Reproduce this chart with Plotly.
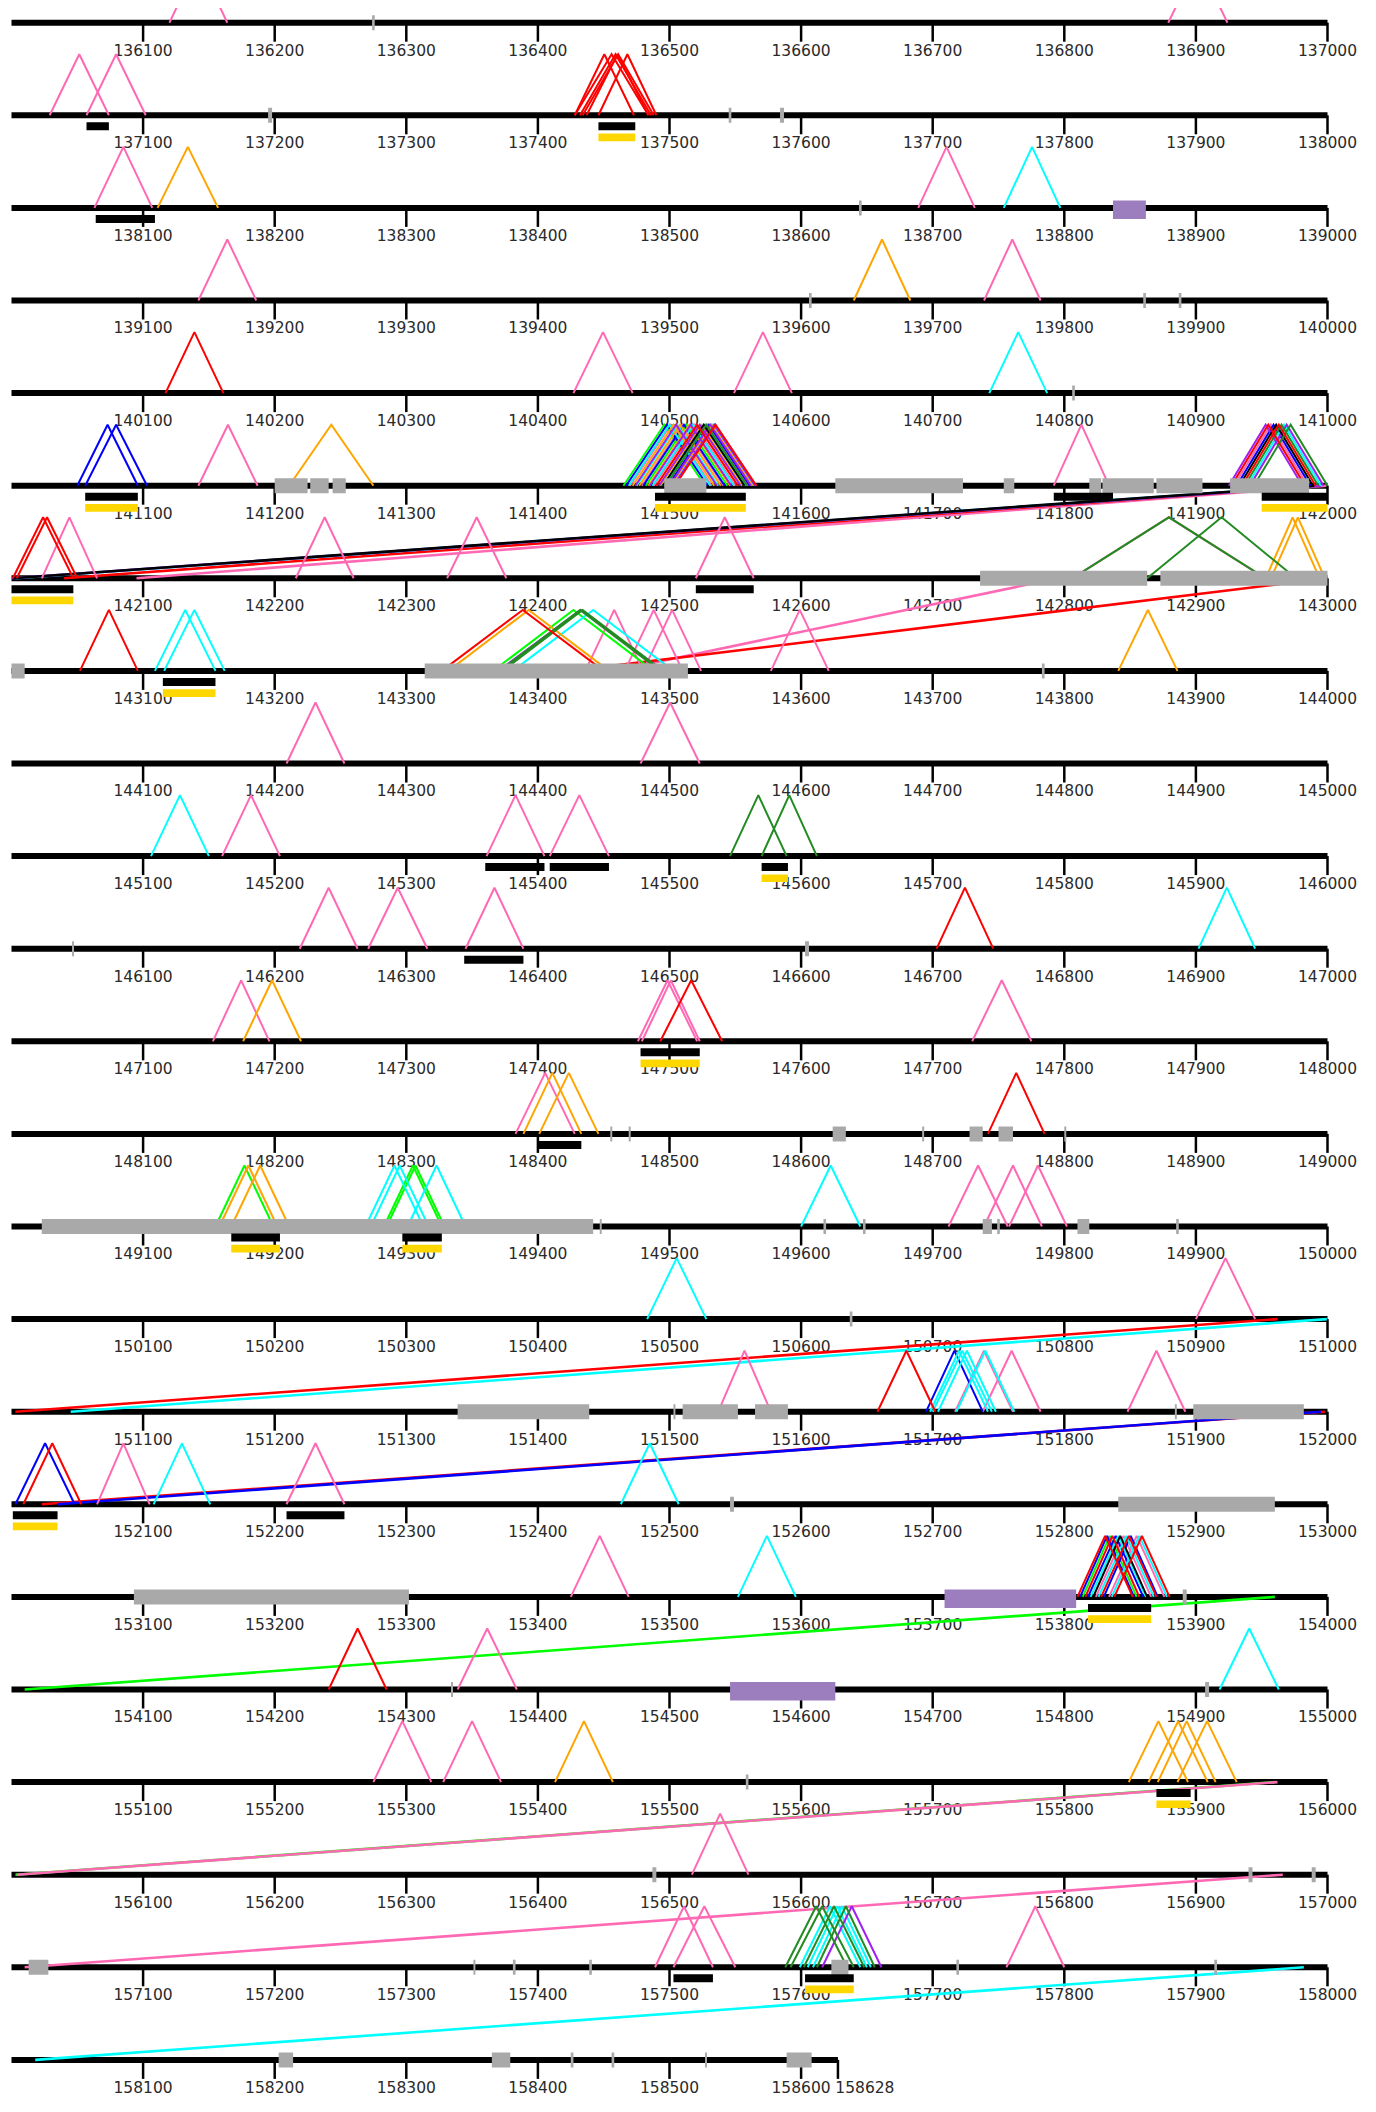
import plotly.graph_objects as go

# ---------------- layout of the wrapped genome strip ----------------
ROW_STARTS = [136000, 137000, 138000, 139000, 140000, 141000, 142000, 143000,
              144000, 145000, 146000, 147000, 148000, 149000, 150000, 151000,
              152000, 153000, 154000, 155000, 156000, 157000, 158000]
ROW_LENGTH = 1000
GENE_END = 158628
TICK_OFFSETS = [100, 200, 300, 400, 500, 600, 700, 800, 900, 1000]

# ---------------- junction triangles (start, end) per colour ----------------
PINK_JUNCTIONS = [
    (136120, 136164), (136879, 136924),
    (137029, 137074), (137057, 137102),
    (138063, 138107), (138689, 138732),
    (139142, 139186), (139739, 139782),
    (140427, 140472), (140549, 140593),
    (141142, 141187), (141792, 141834),
    (141470, 141532), (141479, 141541), (141488, 141550), (141498, 141560), (141504, 141566),
    (141929, 141985),
    (142023, 142065), (142216, 142260), (142331, 142376), (142520, 142564), (142806, 142953),
    (143436, 143480), (143466, 143510), (143480, 143524), (143577, 143621),
    (144209, 144253), (144478, 144523),
    (145160, 145204), (145361, 145405), (145409, 145454),
    (146219, 146263), (146271, 146316), (146345, 146389),
    (147153, 147196), (147476, 147521), (147479, 147523), (147730, 147775),
    (148383, 148428),
    (149712, 149757), (149739, 149783), (149758, 149802),
    (150900, 150945),
    (151537, 151577), (151717, 151761), (151738, 151782), (151848, 151892),
    (152065, 152105), (152209, 152253),
    (153425, 153469), (153824, 153866), (153834, 153876),
    (154339, 154384),
    (155275, 155319), (155328, 155372),
    (156517, 156560),
    (157489, 157533), (157503, 157550), (157756, 157800),
]
RED_JUNCTIONS = [
    (137428, 137473), (137428, 137484), (137432, 137486), (137434, 137488),
    (137437, 137484), (137446, 137490),
    (140117, 140161),
    (141490, 141552), (141504, 141566), (141927, 141983), (141935, 141991),
    (142001, 142047), (142004, 142050),
    (143052, 143096), (143327, 143450),
    (146703, 146746),
    (147493, 147540),
    (148742, 148785),
    (151658, 151702),
    (152009, 152053),
    (153810, 153852), (153816, 153857), (153828, 153870), (153838, 153880),
    (154241, 154285),
]
ORANGE_JUNCTIONS = [
    (138111, 138157), (139640, 139683), (141211, 141275),
    (141472, 141534), (141477, 141539), (141484, 141546), (141490, 141552),
    (141493, 141555), (141501, 141563),
    (142953, 142994), (142957, 142998),
    (143332, 143454), (143841, 143886),
    (147176, 147220), (148389, 148433), (148401, 148446),
    (149158, 149202), (149167, 149211),
    (155413, 155457), (155849, 155894), (155864, 155909), (155871, 155915), (155886, 155931),
]
CYAN_JUNCTIONS = [
    (138754, 138797), (140743, 140787),
    (141469, 141531), (141475, 141537), (141487, 141549), (141495, 141557), (141502, 141564),
    (141939, 141995),
    (143109, 143155), (143116, 143162), (143381, 143503),
    (145106, 145150),
    (146902, 146945),
    (149269, 149313), (149273, 149317), (149301, 149345), (149600, 149645),
    (150483, 150528),
    (151698, 151742), (151700, 151745), (151704, 151748), (151718, 151762),
    (152108, 152151), (152463, 152507),
    (153552, 153596), (153820, 153862), (153826, 153868), (153836, 153878),
    (154918, 154963),
    (157599, 157645), (157605, 157650), (157609, 157653),
]
BLUE_JUNCTIONS = [
    (141050, 141096), (141056, 141103),
    (141467, 141529), (141480, 141542), (141499, 141561),
    (141931, 141987),
    (151695, 151738),
    (152003, 152048),
    (153812, 153853), (153818, 153860), (153830, 153871),
]
LIME_JUNCTIONS = [
    (141465, 141527), (141482, 141544), (141496, 141558), (141503, 141565),
    (143366, 143488),
    (149155, 149199), (149283, 149327), (149285, 149329),
    (153814, 153855),
]
FOREST_JUNCTIONS = [
    (141497, 141559), (141937, 141993), (141944, 142000),
    (142806, 142953), (142863, 142976),
    (143371, 143493), (143373, 143495),
    (145546, 145589), (145570, 145612),
    (157588, 157635), (157592, 157640), (157602, 157648), (157612, 157656),
]
PURPLE_JUNCTIONS = [
    (141474, 141536), (141485, 141547), (141492, 141554), (141500, 141562), (141503, 141565),
    (141925, 141981), (141941, 141997),
    (143370, 143495),
    (157616, 157661),
]
BLACK_JUNCTIONS = [
    (141495, 141557), (141933, 141989), (153822, 153863),
]

# ---------------- long links that wrap between rows (from, to) ----------------
BLACK_LINKS = [(141990, 142001)]
PURPLE_LINKS = [(141995, 142000.5)]
RED_LINKS = [(141995, 142040), (142999, 143425), (150962, 151003), (151998, 152023)]
CYAN_LINKS = [(141992, 142003), (150999.5, 151045), (157982, 158018)]
PINK_LINKS = [(141999, 142095), (142795, 143458), (155962, 156004), (156966, 157010)]
BLUE_LINKS = [(151995, 152035)]
LIME_LINKS = [(153960, 154010), (155960, 156003)]

# ---------------- features on / under the line ----------------
GRAY_FEATURES = [
    (136274, 136276),
    (137195, 137198), (137545, 137547), (137584, 137587),
    (138644, 138646),
    (139606, 139608), (139860, 139862), (139887, 139889),
    (140806, 140808),
    (141200, 141225), (141227, 141241), (141244, 141254), (141496, 141528),
    (141626, 141723), (141754, 141762), (141819, 141828), (141829, 141868),
    (141870, 141905), (141926, 141986),
    (142736, 142863), (142873, 143000),
    (143000, 143010), (143314, 143514), (143783, 143785),
    (146046, 146047.5), (146603, 146606),
    (148455, 148456.5), (148469, 148470.5), (148624, 148634), (148692, 148693.5),
    (148728, 148738), (148750, 148761), (148800, 148801.5),
    (149023, 149442), (149447, 149448.5), (149617, 149619), (149647, 149649),
    (149738, 149745), (149749, 149751), (149810, 149819), (149885, 149887),
    (150637, 150639),
    (151339, 151439), (151503, 151504.5), (151510, 151552), (151565, 151590),
    (151884, 151885.5), (151898, 151982),
    (152546, 152549), (152841, 152960),
    (153093, 153302), (153890, 153893),
    (154334, 154335.5), (154907, 154910),
    (155558, 155560),
    (156487, 156490), (156940, 156943), (156988, 156991),
    (157013, 157028), (157351, 157352.5), (157381, 157383), (157439, 157441),
    (157623, 157636), (157718, 157720), (157914, 157916),
    (158203, 158214), (158365, 158379), (158425, 158427), (158456, 158458),
    (158527, 158528.5), (158589, 158608),
]
PURPLE_BOXES = [(138837, 138862), (153709, 153809), (154546, 154626)]
BLACK_BARS = [
    (137057, 137074), (137446, 137474), (138064, 138109), (141056, 141096),
    (141489, 141558), (141792, 141837), (141950, 142000), (142000, 142047),
    (142520, 142564), (143115, 143155), (145360, 145405), (145409, 145454),
    (145570, 145590), (146344, 146389), (147478, 147523), (148400, 148433),
    (149167, 149204), (149297, 149327), (152001, 152035), (152209, 152253),
    (153818, 153866), (155870, 155896), (157503, 157533), (157603, 157640),
]
GOLD_BARS = [
    (137446, 137474), (141056, 141096), (141489, 141558), (141950, 142000),
    (142000, 142047), (143115, 143155), (145570, 145590), (147478, 147523),
    (149167, 149204), (149297, 149327), (152001, 152035), (153818, 153866),
    (155870, 155896), (157603, 157640),
]

# ---------------- styling ----------------
PAGE_MARGIN = 8       # default body margin of the html page
W, H = 1376 - PAGE_MARGIN, 2112 - PAGE_MARGIN
X0_PX = 11.5 - PAGE_MARGIN    # pixel of row offset 0 (inside the figure)
PX_PER_BP = 1.316
ROW0_PX = 22.7 - PAGE_MARGIN  # pixel of first baseline (inside the figure)
ROW_PX = 92.6                 # row pitch in pixels
PX = 1.0 / ROW_PX             # one pixel in y units

APEX = 61 * PX
COLORS = {
    "pink": "#FF69B4", "red": "#FF0000", "orange": "#FFA500", "cyan": "#00FFFF",
    "blue": "#0000FF", "lime": "#00FF00", "forest": "#228B22", "purple": "#A020F0",
    "black": "#000000",
}


def row_of(bp):
    r = int((bp - ROW_STARTS[0]) // ROW_LENGTH)
    return max(0, min(r, len(ROW_STARTS) - 1))


def seg_triangles(pairs):
    xs, ys = [], []
    for s, e in pairs:
        mid = (s + e) / 2.0
        r = row_of(mid)
        o = ROW_STARTS[r]
        xs += [s - o, mid - o, e - o, None]
        ys += [-r, -r + APEX, -r, None]
    return xs, ys


def seg_links(pairs):
    xs, ys = [], []
    for a, b in pairs:
        ra, rb = row_of(a), row_of(b)
        xs += [a - ROW_STARTS[ra], b - ROW_STARTS[rb], None]
        ys += [-ra, -rb, None]
    return xs, ys


def rects(pairs, top_px, bottom_px):
    xs, ys = [], []
    for s, e in pairs:
        r = row_of(s)
        o = ROW_STARTS[r]
        x0, x1 = s - o, e - o
        y0, y1 = -r + top_px * PX, -r - bottom_px * PX
        xs += [x0, x1, x1, x0, x0, None]
        ys += [y0, y0, y1, y1, y0, None]
    return xs, ys


fig = go.Figure()

# baselines
bx, by = [], []
for r, st in enumerate(ROW_STARTS):
    bx += [0, min(ROW_LENGTH, GENE_END - st), None]
    by += [-r, -r, None]
fig.add_trace(go.Scatter(x=bx, y=by, mode="lines", line=dict(color="black", width=6),
                         hoverinfo="skip", showlegend=False))

# tick marks and labels
tx, ty, lx, ly, lt = [], [], [], [], []
last_x, last_y, last_t = [], [], []
for r, st in enumerate(ROW_STARTS):
    for off in TICK_OFFSETS:
        if st + off <= GENE_END:
            tx += [off, off, None]
            ty += [-r, -r - 19 * PX, None]
            lx.append(off)
            ly.append(-r - 29 * PX)
            lt.append(str(st + off))
    if st + ROW_LENGTH > GENE_END:
        off = GENE_END - st
        tx += [off, off, None]
        ty += [-r, -r - 19 * PX, None]
        last_x.append(off - 2)
        last_y.append(-r - 29 * PX)
        last_t.append(str(GENE_END))
fig.add_trace(go.Scatter(x=tx, y=ty, mode="lines", line=dict(color="black", width=2.5),
                         hoverinfo="skip", showlegend=False))
fig.add_trace(go.Scatter(x=lx, y=ly, mode="text", text=lt, textposition="middle center",
                         textfont=dict(family="DejaVu Sans", size=15.5, color="#2a2a2a"),
                         hoverinfo="skip", showlegend=False, cliponaxis=False))
fig.add_trace(go.Scatter(x=last_x, y=last_y, mode="text", text=last_t, textposition="middle right",
                         textfont=dict(family="DejaVu Sans", size=15.5, color="#2a2a2a"),
                         hoverinfo="skip", showlegend=False, cliponaxis=False))

# wrapped links
for name, pairs in [("lime", LIME_LINKS), ("pink", PINK_LINKS), ("red", RED_LINKS),
                    ("cyan", CYAN_LINKS), ("blue", BLUE_LINKS), ("purple", PURPLE_LINKS),
                    ("black", BLACK_LINKS)]:
    xs, ys = seg_links(pairs)
    fig.add_trace(go.Scatter(x=xs, y=ys, mode="lines", line=dict(color=COLORS[name], width=2.6),
                             hoverinfo="skip", showlegend=False))

# junction triangles
for name, pairs in [("pink", PINK_JUNCTIONS), ("lime", LIME_JUNCTIONS), ("blue", BLUE_JUNCTIONS),
                    ("cyan", CYAN_JUNCTIONS), ("orange", ORANGE_JUNCTIONS),
                    ("purple", PURPLE_JUNCTIONS), ("black", BLACK_JUNCTIONS),
                    ("forest", FOREST_JUNCTIONS), ("red", RED_JUNCTIONS)]:
    xs, ys = seg_triangles(pairs)
    fig.add_trace(go.Scatter(x=xs, y=ys, mode="lines", line=dict(color=COLORS[name], width=2),
                             hoverinfo="skip", showlegend=False))

# boxes on the line and bars under it
for pairs, color, top, bot in [(GRAY_FEATURES, "#A9A9A9", 7.5, 7.5),
                               (PURPLE_BOXES, "#9C7EBE", 7.5, 11),
                               (BLACK_BARS, "#000000", -7, 15),
                               (GOLD_BARS, "#FFD700", -18.3, 26)]:
    xs, ys = rects(pairs, top, bot)
    fig.add_trace(go.Scatter(x=xs, y=ys, mode="lines", fill="toself", fillcolor=color,
                             line=dict(width=0, color=color), hoverinfo="skip", showlegend=False))

fig.update_layout(
    width=W, height=H, margin=dict(l=0, r=0, t=0, b=0),
    paper_bgcolor="white", plot_bgcolor="white", showlegend=False, hovermode=False,
    xaxis=dict(range=[-X0_PX / PX_PER_BP, (W - X0_PX) / PX_PER_BP], visible=False, fixedrange=True),
    yaxis=dict(range=[-(H - ROW0_PX) / ROW_PX, ROW0_PX / ROW_PX], visible=False, fixedrange=True),
)
fig.write_html("out.html")
